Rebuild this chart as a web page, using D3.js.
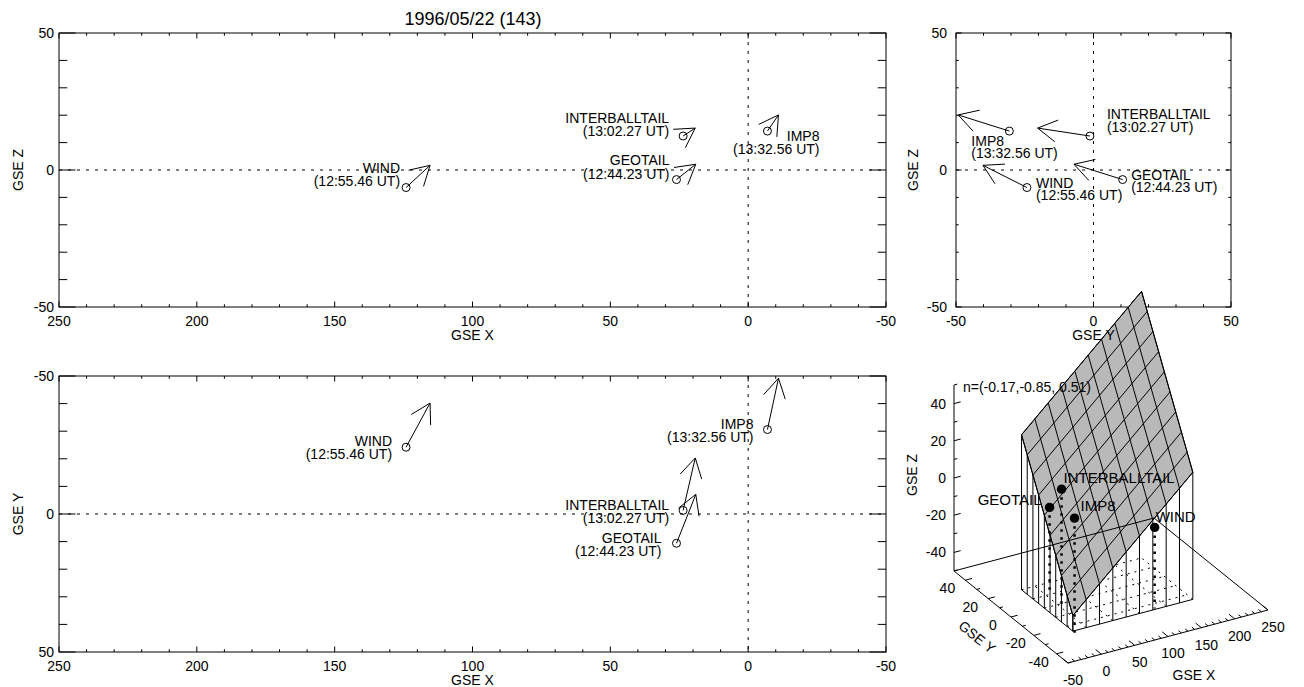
<!DOCTYPE html>
<html>
<head>
<meta charset="utf-8">
<script src="https://cdn.jsdelivr.net/npm/d3@7"></script>
<style>
body { margin: 0; background: #fff; }
svg text { font-family: "Liberation Sans", Arial, sans-serif; font-size: 14px; fill: #000; }
</style>
</head>
<body>
<script>
// spacecraft positions (GSE, Re) and arrow vectors
var craft = ["WIND", "INTERBALLTAIL", "GEOTAIL", "IMP8"];
var times = ["12:55.46", "13:02.27", "12:44.23", "13:32.56"];
var posX = [124.1, 23.6, 26.0, -7.0];
var posY = [-24.2, -1.3, 10.6, -30.6];
var posZ = [-6.4, 12.4, -3.5, 14.2];
var vecX = [-8.7, -4.4, -7.0, -4.0];
var vecY = [-16.0, -19.0, -17.7, -18.6];
var vecZ = [8.1, 2.9, 5.6, 5.9];

// boundary plane normal and the grid it is drawn on
var normal = [-0.17, -0.85, 0.51];
var planeX = [0, 20, 40, 60, 80, 100, 120, 140, 160, 180];
var planeY = [-25, -20, -15, -10, -5, 0, 5, 10, 15, 20];

// tick labels
var ticksX = [250, 200, 150, 100, 50, 0, -50];
var ticksYZ = [-50, 0, 50];
var ticks3X = [-50, 0, 50, 100, 150, 200, 250];
var ticks3Y = [40, 20, 0, -20, -40];
var ticks3Z = [-40, -20, 0, 20, 40];

var title = "1996/05/22 (143)";

var data = craft.map(function (c, i) {
  return { name: c, time: times[i], x: posX[i], y: posY[i], z: posZ[i],
           vx: vecX[i], vy: vecY[i], vz: vecZ[i] };
});

var svg = d3.select('body').append('svg')
  .attr('width', 1304).attr('height', 687);

svg.append('text')
  .attr('x', 473).attr('y', 25)
  .attr('text-anchor', 'middle')
  .style('font-size', '18px')
  .text(title);

// arrow with a fixed size head, like IDL's ARROW
function arrow(g, p, t) {
  g.append('line').attr('x1', p[0]).attr('y1', p[1]).attr('x2', t[0]).attr('y2', t[1])
    .attr('stroke', '#000');
  var a = Math.atan2(p[1] - t[1], p[0] - t[0]);
  [-Math.PI / 6, Math.PI / 6].forEach(function (da) {
    g.append('line')
      .attr('x1', t[0]).attr('y1', t[1])
      .attr('x2', t[0] + 22 * Math.cos(a + da))
      .attr('y2', t[1] + 22 * Math.sin(a + da))
      .attr('stroke', '#000');
  });
}

function twoLines(g, x, y, anchor, gap, l1, l2) {
  var t = g.append('text').attr('text-anchor', anchor);
  t.append('tspan').attr('x', x).attr('y', y).text(l1);
  t.append('tspan').attr('x', x).attr('y', y + gap).text(l2);
}

// one 2D projection panel
function panel(cfg) {
  var x = d3.scaleLinear().domain(cfg.xd).range([cfg.x0, cfg.x1]);
  var y = d3.scaleLinear().domain(cfg.yd).range([cfg.y0, cfg.y1]);
  var w = cfg.x1 - cfg.x0, h = cfg.y1 - cfg.y0;
  var g = svg.append('g');

  // zero lines
  g.append('line').attr('x1', cfg.x0).attr('x2', cfg.x1).attr('y1', y(0)).attr('y2', y(0))
    .attr('stroke', '#000').attr('stroke-dasharray', '3,6');
  g.append('line').attr('x1', x(0)).attr('x2', x(0)).attr('y1', cfg.y0).attr('y2', cfg.y1)
    .attr('stroke', '#000').attr('stroke-dasharray', '3,6');

  g.append('rect').attr('x', cfg.x0).attr('y', cfg.y0).attr('width', w).attr('height', h)
    .attr('fill', 'none').attr('stroke', '#000');

  var xl = 0.02 * h, yl = 0.02 * w;
  var xMin = d3.extent(cfg.xd), yMin = d3.extent(cfg.yd);
  d3.range(xMin[0], xMin[1] + 1, 10).forEach(function (v) {
    var len = (v % 50 === 0) ? xl : xl / 2;
    g.append('line').attr('x1', x(v)).attr('x2', x(v)).attr('y1', cfg.y1).attr('y2', cfg.y1 - len).attr('stroke', '#000');
    g.append('line').attr('x1', x(v)).attr('x2', x(v)).attr('y1', cfg.y0).attr('y2', cfg.y0 + len).attr('stroke', '#000');
  });
  d3.range(yMin[0], yMin[1] + 1, 10).forEach(function (v) {
    var len = (v % 50 === 0) ? yl : yl / 2;
    g.append('line').attr('y1', y(v)).attr('y2', y(v)).attr('x1', cfg.x0).attr('x2', cfg.x0 + len).attr('stroke', '#000');
    g.append('line').attr('y1', y(v)).attr('y2', y(v)).attr('x1', cfg.x1).attr('x2', cfg.x1 - len).attr('stroke', '#000');
  });

  cfg.xt.forEach(function (v) {
    g.append('text').attr('x', x(v)).attr('y', cfg.y1 + 19).attr('text-anchor', 'middle').text(v);
  });
  ticksYZ.forEach(function (v) {
    g.append('text').attr('x', cfg.x0 - cfg.lo).attr('y', y(v)).attr('dy', '0.35em')
      .attr('text-anchor', 'end').text(v);
  });

  g.append('text').attr('x', (cfg.x0 + cfg.x1) / 2).attr('y', cfg.y1 + 33)
    .attr('text-anchor', 'middle').attr('class', 'xtitle').text(cfg.xTitle);
  g.append('text').attr('transform', 'translate(' + cfg.ytx + ',' + (cfg.y0 + cfg.y1) / 2 + ') rotate(-90)')
    .attr('dy', '0.35em').attr('text-anchor', 'middle').text(cfg.yTitle);

  data.forEach(function (d) {
    var p = [x(d[cfg.hk]), y(d[cfg.vk])];
    var t = [x(d[cfg.hk] + d['v' + cfg.hk]), y(d[cfg.vk] + d['v' + cfg.vk])];
    arrow(g, p, t);
    g.append('circle').attr('cx', p[0]).attr('cy', p[1]).attr('r', 4)
      .attr('fill', 'none').attr('stroke', '#000');
    var o = cfg.lab[d.name];
    twoLines(g, p[0] + o[0], p[1] + o[1], o[2], cfg.gap, d.name, '(' + d.time + ' UT)');
  });
  return g;
}

panel({
  x0: 59, x1: 886, y0: 33, y1: 307, xd: [250, -50], yd: [50, -50],
  hk: 'x', vk: 'z', xt: ticksX, lo: 5, ytx: 18, gap: 13.4,
  xTitle: 'GSE X', yTitle: 'GSE Z',
  lab: { WIND: [-6, -14.5, 'end'], INTERBALLTAIL: [-14, -13, 'end'],
         GEOTAIL: [-7, -14.3, 'end'], IMP8: [52, 9.5, 'end'] }
});

panel({
  x0: 59, x1: 886, y0: 376, y1: 652, xd: [250, -50], yd: [-50, 50],
  hk: 'x', vk: 'y', xt: ticksX, lo: 5, ytx: 18, gap: 12.6,
  xTitle: 'GSE X', yTitle: 'GSE Y',
  lab: { WIND: [-14, -1, 'end'], INTERBALLTAIL: [-14, 0, 'end'],
         GEOTAIL: [-15, 0, 'end'], IMP8: [-14, -0.5, 'end'] }
});

var tr = panel({
  x0: 956, x1: 1231, y0: 33, y1: 307, xd: [-50, 50], yd: [50, -50],
  hk: 'y', vk: 'z', xt: [-50, 0, 50], lo: 9, ytx: 913, gap: 12.4,
  xTitle: 'GSE Y', yTitle: 'GSE Z',
  lab: { WIND: [9, 0.5, 'start'], INTERBALLTAIL: [17, -16.7, 'start'],
         GEOTAIL: [8.5, 0, 'start'], IMP8: [-38, 15, 'start'] }
});

// ---- 3D view ----
var F = [1068, 663], R = [1268, 610], L = [954, 571], zUp = 186;
var s3x = d3.scaleLinear().domain([-50, 250]).range([0, 1]);
var s3y = d3.scaleLinear().domain([-50, 50]).range([0, 1]);
var s3z = d3.scaleLinear().domain([-50, 50]).range([0, 1]);
function proj(x, y, z) {
  var a = s3x(x), b = s3y(y), c = s3z(z);
  return [F[0] + a * (R[0] - F[0]) + b * (L[0] - F[0]),
          F[1] + a * (R[1] - F[1]) + b * (L[1] - F[1]) - c * zUp];
}
function zPlane(x, y) { return -(normal[0] * x + normal[1] * y) / normal[2]; }
var line3 = d3.line().x(function (p) { return p[0]; }).y(function (p) { return p[1]; });
var g3 = svg.append('g');
function seg(a, b, dash, w) {
  return g3.append('path').attr('d', line3([proj.apply(null, a), proj.apply(null, b)]))
    .attr('stroke', '#000').attr('fill', 'none')
    .attr('stroke-width', w || 1)
    .attr('stroke-dasharray', dash || null);
}

// floor shadow of the plane grid
planeY.filter(function (v, i) { return i % 2 === 1; }).forEach(function (v) {
  seg([planeX[0], v, -50], [planeX[planeX.length - 1], v, -50], '2,5');
});
planeX.filter(function (v, i) { return i % 2 === 1; }).forEach(function (v) {
  seg([v, planeY[0], -50], [v, planeY[planeY.length - 1], -50], '2,5');
});

// axes
seg([-50, 50, -50], [-50, -50, -50]);
seg([-50, -50, -50], [250, -50, -50]);
seg([-50, 50, -50], [-50, 50, 50]);
seg([250, 50, -50], [250, -50, -50]);

d3.range(-50, 251, 10).forEach(function (v) {
  seg([v, -50, -50], [v, -50 + (v % 50 === 0 ? 5 : 2.5), -50]);
});
d3.range(-50, 51, 10).forEach(function (v) {
  seg([-50, v, -50], [-50 + (v % 20 === 0 ? 10 : 5), v, -50]);
  seg([-50, 50, v], [-50 + (v % 20 === 0 ? 10 : 5), 50, v]);
});
ticks3X.forEach(function (v) {
  var p = proj(v, -50, -50);
  g3.append('text').attr('x', p[0] + 5).attr('y', p[1] + 17).attr('dy', '0.35em')
    .attr('text-anchor', 'middle').text(v);
});
ticks3Y.forEach(function (v) {
  var p = proj(-50, v, -50);
  g3.append('text').attr('x', p[0] - 18).attr('y', p[1] + 8).attr('dy', '0.35em')
    .attr('text-anchor', 'middle').text(v);
});
ticks3Z.forEach(function (v) {
  var p = proj(-50, 50, v);
  g3.append('text').attr('x', p[0] - 8).attr('y', p[1]).attr('dy', '0.35em')
    .attr('text-anchor', 'end').text(v);
});
g3.append('text').attr('x', 1194).attr('y', 675).attr('dy', '0.35em')
  .attr('text-anchor', 'middle').text('GSE X');
g3.append('text').attr('transform', 'translate(977,637) rotate(39)').attr('dy', '0.35em')
  .attr('text-anchor', 'middle').text('GSE Y');
g3.append('text').attr('transform', 'translate(912,475) rotate(-90)').attr('dy', '0.35em')
  .attr('text-anchor', 'middle').text('GSE Z');

// skirt under the plane
var x0p = planeX[0], x1p = planeX[planeX.length - 1];
var y0p = planeY[0], y1p = planeY[planeY.length - 1];
planeY.forEach(function (v) { seg([x0p, v, zPlane(x0p, v)], [x0p, v, -50]); });
planeX.forEach(function (v) { seg([v, y0p, zPlane(v, y0p)], [v, y0p, -50]); });
seg([x0p, y1p, -50], [x0p, y0p, -50]);
seg([x0p, y0p, -50], [x1p, y0p, -50]);

// plane
var corners = [[x0p, y0p], [x1p, y0p], [x1p, y1p], [x0p, y1p]].map(function (c) {
  return proj(c[0], c[1], zPlane(c[0], c[1]));
});
g3.append('path').attr('d', line3(corners) + 'Z')
  .attr('fill', '#b9b9b9').attr('stroke', '#000');
planeX.forEach(function (v) { seg([v, y0p, zPlane(v, y0p)], [v, y1p, zPlane(v, y1p)]); });
planeY.forEach(function (v) { seg([x0p, v, zPlane(x0p, v)], [x1p, v, zPlane(x1p, v)]); });

// back floor edge drawn over the plane
seg([-50, 50, -50], [250, 50, -50]);

g3.append('text').attr('x', 963).attr('y', 392)
  .text('n=(' + normal.map(function (v) { return v.toFixed(2); }).join(',').replace(',0.51', ', 0.51') + ')');

var lab3 = { WIND: [1, -5, 'start'], INTERBALLTAIL: [2, -6.5, 'start'],
             GEOTAIL: [-8, -2, 'end'], IMP8: [6, -7.5, 'start'] };
data.forEach(function (d) {
  seg([d.x, d.y, d.z], [d.x, d.y, -50], '2.5,5.5', 2.5);
  var p = proj(d.x, d.y, d.z);
  g3.append('circle').attr('cx', p[0]).attr('cy', p[1]).attr('r', 4.7).attr('fill', '#000');
  var o = lab3[d.name];
  g3.append('text').attr('x', p[0] + o[0]).attr('y', p[1] + o[1])
    .attr('text-anchor', o[2]).style('font-size', '15px').text(d.name);
});

// keep the top-right axis title above the plane
svg.node().appendChild(tr.select('.xtitle').node());
</script>
</body>
</html>
